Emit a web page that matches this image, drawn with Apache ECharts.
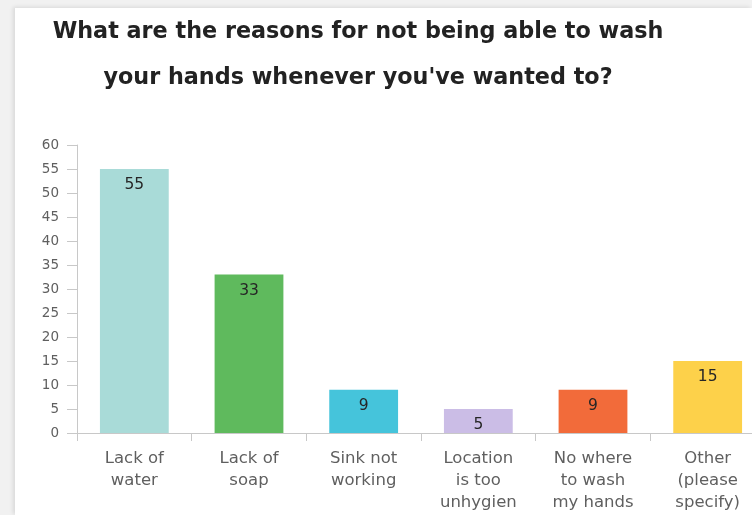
<!DOCTYPE html>
<html>
<head>
<meta charset="utf-8">
<title>Reasons for not being able to wash hands</title>
<script src="https://cdn.jsdelivr.net/npm/echarts@6/dist/echarts.min.js"></script>
<style>
  html, body { margin: 0; padding: 0; }
  body { width: 752px; height: 515px; background: #f1f1f1; position: relative; overflow: hidden; }
  #card {
    position: absolute; left: 15px; top: 8px; width: 737px; height: 507px;
    background: #ffffff; box-shadow: -2px -1px 4px rgba(0,0,0,0.10);
    overflow: hidden;
  }
  /* the plot runs on past the right edge of the card, so the canvas is wider than the card */
  #chart { width: 752px; height: 507px; }
</style>
</head>
<body>
<div id="card"><div id="chart"></div></div>
<script>
// Survey answers: why people could not wash their hands
const categories = [
  'Lack of\nwater',
  'Lack of\nsoap',
  'Sink not\nworking',
  'Location\nis too\nunhygien',
  'No where\nto wash\nmy hands',
  'Other\n(please\nspecify)'
];
const responses = [55, 33, 9, 5, 9, 15];
const yTicks = { min: 0, max: 60, step: 5 };
const barColors = ['#a9dbd8', '#5fba5d', '#45c4db', '#cbbde6', '#f26b3a', '#fdd14a'];

const titleText = "What are the reasons for not being able to wash\nyour hands whenever you've wanted to?";

const chart = echarts.init(document.getElementById('chart'), null, { renderer: 'canvas' });

const FONT = '"DejaVu Sans", Verdana, sans-serif';

chart.setOption({
  animation: false,
  backgroundColor: '#ffffff',
  title: {
    text: titleText,
    left: 343,
    top: 1,
    padding: 0,
    textAlign: 'center',
    textStyle: {
      fontFamily: FONT,
      fontSize: 22.3,
      fontWeight: 'bold',
      color: '#222222',
      lineHeight: 46
    }
  },
  grid: { left: 62, right: 2, top: 137, bottom: 82, containLabel: false },
  xAxis: {
    type: 'category',
    data: categories,
    axisLine: { show: true, lineStyle: { color: '#c8c8c8', width: 1 } },
    axisTick: { show: true, length: 8, lineStyle: { color: '#c8c8c8' } },
    axisLabel: {
      interval: 0,
      margin: 15,
      color: '#5f5f5f',
      fontFamily: FONT,
      fontSize: 16.5,
      lineHeight: 22,
      align: 'center'
    },
    splitLine: { show: false }
  },
  yAxis: {
    type: 'value',
    min: yTicks.min,
    max: yTicks.max,
    interval: yTicks.step,
    axisLine: { show: true, lineStyle: { color: '#c8c8c8', width: 1 } },
    axisTick: { show: true, length: 10, lineStyle: { color: '#c8c8c8' } },
    axisLabel: {
      margin: 18,
      color: '#5f5f5f',
      fontFamily: FONT,
      fontSize: 13.5
    },
    splitLine: { show: false }
  },
  series: [{
    type: 'bar',
    data: responses.map((v, i) => ({ value: v, itemStyle: { color: barColors[i] } })),
    barWidth: '60%',
    label: {
      show: true,
      position: 'insideTop',
      distance: 8,
      color: '#262626',
      fontFamily: FONT,
      fontSize: 15.5
    }
  }]
});
</script>
</body>
</html>
